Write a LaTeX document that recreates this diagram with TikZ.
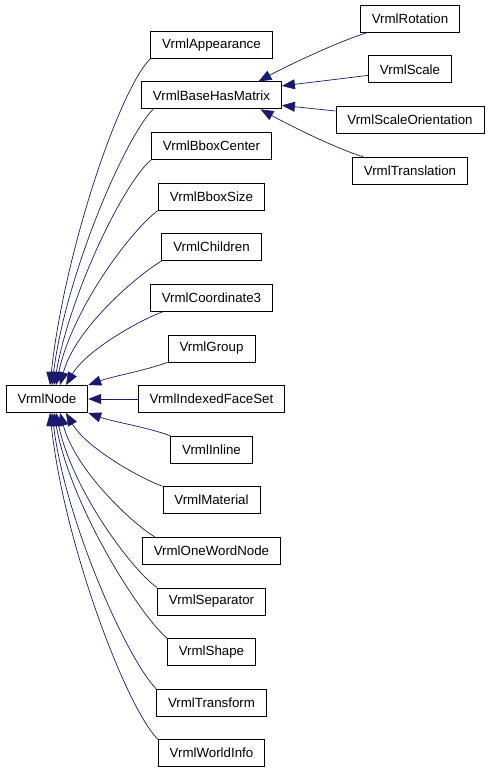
\documentclass[tikz,border=0pt]{standalone}
\usepackage{fontspec}
\setmainfont{Liberation Sans}
\usetikzlibrary{arrows.meta,positioning}
\definecolor{edgeblue}{RGB}{25,25,112}
\tikzset{
  cls/.style={draw, line width=0.8pt, minimum height=27pt, inner xsep=11.5pt, inner ysep=0pt,
    font=\fontsize{13.3}{16}\selectfont},
  inherit/.style={draw=edgeblue, line width=0.7pt, -{Triangle[length=13pt,width=10pt]}}
}
\begin{document}
\begin{tikzpicture}[x=1pt,y=1pt,node distance=50.6pt]
			\useasboundingbox (-47,-373) rectangle (444,399);
			\node[cls](vrmlnode) {VrmlNode};
			\node[cls](indexedfaceset) [right of=vrmlnode, node distance=164.5pt] {VrmlIndexedFaceSet};
			\node[cls](group) [above of=indexedfaceset] {VrmlGroup};
			\node[cls](coordinate) [above of=group] {VrmlCoordinate3};
			\node[cls](children) [above of=coordinate] {VrmlChildren};
			\node[cls](bboxsize) [above of=children] {VrmlBboxSize};
			\node[cls](bboxcenter) [above of=bboxsize] {VrmlBboxCenter};
			\node[cls](hasmatrix) [above of=bboxcenter] {VrmlBaseHasMatrix};
			\node[cls](appearance) [above of=hasmatrix] {VrmlAppearance};
			\node[cls](inline) [below of=indexedfaceset] {VrmlInline};
			\node[cls](material) [below of=inline] {VrmlMaterial};
			\node[cls](onewordnode) [below of=material] {VrmlOneWordNode};
			\node[cls](separator) [below of=onewordnode] {VrmlSeparator};
			\node[cls](shape) [below of=separator] {VrmlShape};
			\node[cls](transform) [below of=shape] {VrmlTransform};
			\node[cls](worldinfo) [below of=transform] {VrmlWorldInfo};
			\node[cls](rotation) [right of=appearance, node distance=198.5pt, yshift=26pt] {VrmlRotation};
			\node[cls](scale) [below of=rotation] {VrmlScale};
			\node[cls](scaleorientation) [below of=scale] {VrmlScaleOrientation};
			\node[cls](translation) [below of=scaleorientation] {VrmlTranslation};

			% upper children
			\draw[inherit] (appearance.south west) .. controls +(225:45) and +(84:130) .. ([xshift=3pt]vrmlnode.north);
			\draw[inherit] ([xshift=12pt]hasmatrix.south west) .. controls +(225:40) and +(83:110) .. ([xshift=5pt]vrmlnode.north);
			\draw[inherit] (bboxcenter.south west) .. controls +(220:35) and +(80:95) .. ([xshift=7pt]vrmlnode.north);
			\draw[inherit] (bboxsize.south west) .. controls +(215:30) and +(78:80) .. ([xshift=9pt]vrmlnode.north);
			\draw[inherit] (children.south west) .. controls +(210:25) and +(75:60) .. ([xshift=13pt]vrmlnode.north);
			\draw[inherit] ([xshift=13pt]coordinate.south west) .. controls +(200:25) and +(60:40) .. ([xshift=19pt]vrmlnode.north);
			\draw[inherit] (group.south west) .. controls +(200:25) and +(20:25) .. (vrmlnode.north east);
			\draw[inherit] (indexedfaceset.west) -- (vrmlnode.east);
			% lower children
			\draw[inherit] (inline.north west) .. controls +(160:25) and +(340:25) .. (vrmlnode.south east);
			\draw[inherit] (material.north west) .. controls +(160:25) and +(300:40) .. ([xshift=19pt]vrmlnode.south);
			\draw[inherit] ([xshift=13pt]onewordnode.north west) .. controls +(150:25) and +(285:60) .. ([xshift=13pt]vrmlnode.south);
			\draw[inherit] (separator.north west) .. controls +(145:30) and +(282:80) .. ([xshift=9pt]vrmlnode.south);
			\draw[inherit] (shape.north west) .. controls +(140:35) and +(280:95) .. ([xshift=7pt]vrmlnode.south);
			\draw[inherit] (transform.north west) .. controls +(135:40) and +(277:110) .. ([xshift=5pt]vrmlnode.south);
			\draw[inherit] (worldinfo.north west) .. controls +(135:45) and +(276:130) .. ([xshift=3pt]vrmlnode.south);
			% matrix children
			\draw[inherit] ([xshift=7pt]rotation.south west) .. controls +(197:30) and +(29:30) .. ([xshift=47pt]hasmatrix.north);
			\draw[inherit] ([yshift=-6pt]scale.west) -- ([yshift=9.5pt]hasmatrix.east);
			\draw[inherit] ([yshift=9pt]scaleorientation.west) -- ([yshift=-10pt]hasmatrix.east);
			\draw[inherit] ([xshift=11pt]translation.north west) .. controls +(163:30) and +(331:30) .. ([xshift=49pt]hasmatrix.south);
		\end{tikzpicture}
\end{document}
